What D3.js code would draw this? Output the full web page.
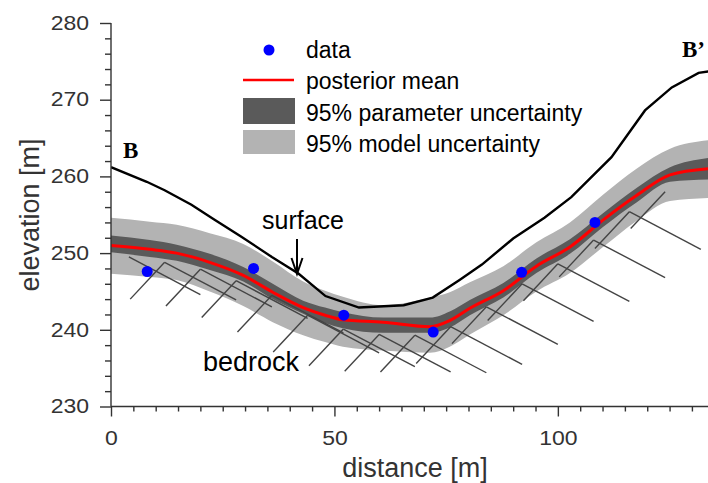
<!DOCTYPE html>
<html>
<head>
<meta charset="utf-8">
<script src="https://cdn.jsdelivr.net/npm/d3@7"></script>
<style>
  body { margin: 0; background: #fff; }
  svg { display: block; font-family: "Liberation Sans", Arial, sans-serif; }
</style>
</head>
<body>
<div id="chart"></div>
<script>
// measured data points
var dataX = [8.1, 31.9, 52.1, 72.1, 91.9, 108.3];
var dataY = [247.6, 248.0, 241.9, 239.7, 247.5, 254.0];

// ground surface
var surfX = [0, 8, 12, 18, 23, 29, 36, 42, 48, 55.5, 65.5, 72, 78, 83, 90, 97, 103, 112, 119.5, 125.5, 131.5, 134];
var surfY = [261.2, 259.3, 258.2, 256.3, 254.4, 252.2, 249.5, 247.3, 244.4, 242.9, 243.2, 244.2, 246.5, 248.5, 251.9, 254.6, 257.3, 262.5, 268.6, 271.6, 273.5, 273.7];

// posterior mean and uncertainty bands
var meanX = [0, 8.7, 14.7, 22.1, 29.6, 36.2, 43.0, 47.9, 51.9, 60.9, 71.4, 75.8, 80.3, 87.8, 95.2, 102.7, 110.1, 117.6, 125.1, 133.6];
var meanY = [251.0, 250.5, 250.0, 248.8, 247.1, 244.9, 242.9, 241.9, 241.3, 241.0, 240.4, 241.2, 242.8, 245.1, 248.3, 250.8, 254.3, 257.5, 260.2, 261.0];
var paramHi = [252.3, 251.7, 251.1, 249.9, 248.2, 246.0, 243.8, 242.9, 242.3, 241.6, 241.6, 242.4, 243.9, 246.1, 249.3, 251.8, 255.2, 258.5, 261.2, 262.4];
var paramLo = [250.1, 249.5, 249.0, 247.8, 246.3, 244.0, 242.1, 240.9, 240.2, 239.6, 239.6, 240.3, 241.9, 244.2, 247.4, 249.9, 253.4, 256.6, 259.3, 259.6];
var modelHi = [254.6, 254.1, 253.7, 252.6, 251.2, 248.9, 246.3, 245.1, 244.3, 243.2, 244.2, 244.9, 246.2, 248.3, 251.4, 254.0, 257.6, 261.0, 263.6, 264.7];
var modelLo = [247.3, 246.9, 246.5, 245.0, 243.1, 241.0, 239.3, 238.4, 237.8, 237.3, 237.0, 237.8, 239.4, 241.9, 245.0, 247.4, 250.8, 254.2, 256.8, 257.2];

// bedrock hatch anchors
var hatchX = [4, 12, 20, 28, 36, 44, 52, 60, 68, 76, 84, 92, 100, 108, 116, 124];
var hatchY = [249.5, 248.8, 247.9, 246.4, 244.5, 241.9, 240.1, 239.4, 239.3, 240.4, 243.0, 246.0, 248.6, 251.7, 255.4, 258.0];

var xTicks = [0, 50, 100];
var yTicks = [230, 240, 250, 260, 270, 280];

var legendLabels = ["data", "posterior mean", "95% parameter uncertainty", "95% model uncertainty"];

var W = 708, H = 483;
var pL = 111, pR = 708, pT = 23, pB = 406.5;

var svg = d3.select("#chart").append("svg")
  .attr("width", W)
  .attr("height", H);

var x = d3.scaleLinear().domain([0, 133.6]).range([pL, pR]);
var y = d3.scaleLinear().domain([230, 280]).range([pB, pT]);

svg.append("clipPath").attr("id", "clip")
  .append("rect")
  .attr("x", pL).attr("y", pT)
  .attr("width", pR - pL).attr("height", pB - pT);

var plot = svg.append("g").attr("clip-path", "url(#clip)");

var idx = d3.range(meanX.length);

// model uncertainty
plot.append("path")
  .datum(idx)
  .attr("fill", "#b3b3b3")
  .attr("d", d3.area().curve(d3.curveMonotoneX)
    .x(function(i) { return x(meanX[i]); })
    .y0(function(i) { return y(modelLo[i]); })
    .y1(function(i) { return y(modelHi[i]); }));

// parameter uncertainty
plot.append("path")
  .datum(idx)
  .attr("fill", "#5a5a5a")
  .attr("d", d3.area().curve(d3.curveMonotoneX)
    .x(function(i) { return x(meanX[i]); })
    .y0(function(i) { return y(paramLo[i]); })
    .y1(function(i) { return y(paramHi[i]); }));

// bedrock hatching
var hIdx = d3.range(hatchX.length);
plot.selectAll(".h1")
  .data(hIdx.slice(1))
  .enter().append("line")
  .attr("x1", function(i) { return x(hatchX[i]); })
  .attr("y1", function(i) { return y(hatchY[i]); })
  .attr("x2", function(i) { return x(hatchX[i] - 7.7); })
  .attr("y2", function(i) { return y(hatchY[i] - 4.8); })
  .attr("stroke", "#444")
  .attr("stroke-width", 1.4);
plot.selectAll(".h2")
  .data(hIdx.slice(0, hIdx.length - 1))
  .enter().append("line")
  .attr("x1", function(i) { return x(hatchX[i]); })
  .attr("y1", function(i) { return y(hatchY[i]); })
  .attr("x2", function(i) { return x(hatchX[i] + 16); })
  .attr("y2", function(i) { return y(hatchY[i] - 4.9); })
  .attr("stroke", "#444")
  .attr("stroke-width", 1.4);

// surface
plot.append("path")
  .datum(d3.range(surfX.length))
  .attr("fill", "none")
  .attr("stroke", "#000")
  .attr("stroke-width", 2.4)
  .attr("d", d3.line()
    .x(function(i) { return x(surfX[i]); })
    .y(function(i) { return y(surfY[i]); }));

// posterior mean
plot.append("path")
  .datum(idx)
  .attr("fill", "none")
  .attr("stroke", "#ff0000")
  .attr("stroke-width", 3)
  .attr("d", d3.line().curve(d3.curveMonotoneX)
    .x(function(i) { return x(meanX[i]); })
    .y(function(i) { return y(meanY[i]); }));

// data points
plot.selectAll(".dot")
  .data(d3.range(dataX.length))
  .enter().append("circle")
  .attr("cx", function(i) { return x(dataX[i]); })
  .attr("cy", function(i) { return y(dataY[i]); })
  .attr("r", 5.5)
  .attr("fill", "#0000ff");

// axes
var sx = 1.18;
var xMinor = d3.range(0, 135, 5).filter(function(v) { return v % 50 != 0; });
var yMinor = d3.range(230, 281, 2).filter(function(v) { return v % 10 != 0; });

svg.append("g").attr("transform", "translate(0," + pB + ")")
  .call(d3.axisBottom(x).tickValues(xMinor).tickSize(5).tickFormat(""))
  .select(".domain").remove();
var gx = svg.append("g").attr("transform", "translate(0," + pB + ")")
  .call(d3.axisBottom(x).tickValues(xTicks).tickSize(10).tickPadding(15).tickFormat(d3.format("d")));
gx.select(".domain").attr("d", "M" + pL + ",0H" + pR);

svg.append("g").attr("transform", "translate(" + pL + ",0)")
  .call(d3.axisLeft(y).tickValues(yMinor).tickSize(6).tickFormat(""))
  .select(".domain").remove();
var gy = svg.append("g").attr("transform", "translate(" + pL + ",0)")
  .call(d3.axisLeft(y).tickValues(yTicks).tickSize(11).tickPadding(11).tickFormat(d3.format("d")));
gy.select(".domain").attr("d", "M0," + pT + "V" + pB);

svg.selectAll(".domain, .tick line").attr("stroke", "#333").attr("stroke-width", 1.4);
gx.selectAll(".tick text")
  .attr("font-size", 19.5).attr("fill", "#333")
  .attr("font-family", "Liberation Sans, Arial, sans-serif")
  .attr("transform", "scale(" + sx + ",1)");
gy.selectAll(".tick text")
  .attr("font-size", 19.5).attr("fill", "#333")
  .attr("font-family", "Liberation Sans, Arial, sans-serif")
  .attr("x", -22 / sx)
  .attr("transform", "scale(" + sx + ",1)");

svg.append("text")
  .attr("x", 415).attr("y", 477)
  .attr("text-anchor", "middle")
  .attr("font-size", 27).attr("fill", "#333")
  .text("distance [m]");

svg.append("text")
  .attr("transform", "translate(39,215) rotate(-90)")
  .attr("text-anchor", "middle")
  .attr("font-size", 27).attr("fill", "#333")
  .text("elevation [m]");

// annotations
svg.append("text")
  .attr("x", 123).attr("y", 158)
  .attr("font-family", "Liberation Serif, Times New Roman, serif")
  .attr("font-weight", "bold").attr("font-size", 23)
  .text("B");
svg.append("text")
  .attr("x", 682).attr("y", 57)
  .attr("font-family", "Liberation Serif, Times New Roman, serif")
  .attr("font-weight", "bold").attr("font-size", 23)
  .text("B\u2019");

svg.append("text")
  .attr("x", 262).attr("y", 229)
  .attr("font-size", 25)
  .text("surface");
svg.append("path")
  .attr("d", "M297,239V274M291.5,258L297,274L302.5,258")
  .attr("fill", "none").attr("stroke", "#000").attr("stroke-width", 2);

svg.append("text")
  .attr("x", 203).attr("y", 370.5)
  .attr("font-size", 27)
  .text("bedrock");

// legend
var lg = svg.append("g");
lg.append("circle").attr("cx", 269).attr("cy", 50).attr("r", 5.5).attr("fill", "#0000ff");
lg.append("line").attr("x1", 243).attr("x2", 294).attr("y1", 80).attr("y2", 80)
  .attr("stroke", "#ff0000").attr("stroke-width", 2.5);
lg.append("rect").attr("x", 243).attr("y", 98).attr("width", 52).attr("height", 26).attr("fill", "#5a5a5a");
lg.append("rect").attr("x", 243).attr("y", 130).attr("width", 52).attr("height", 24).attr("fill", "#b3b3b3");
var baselines = [58, 89, 121, 152];
lg.selectAll(".lt")
  .data(legendLabels)
  .enter().append("text")
  .attr("x", 306)
  .attr("y", function(d, i) { return baselines[i]; })
  .attr("font-size", 23)
  .text(function(d) { return d; });
</script>
</body>
</html>
